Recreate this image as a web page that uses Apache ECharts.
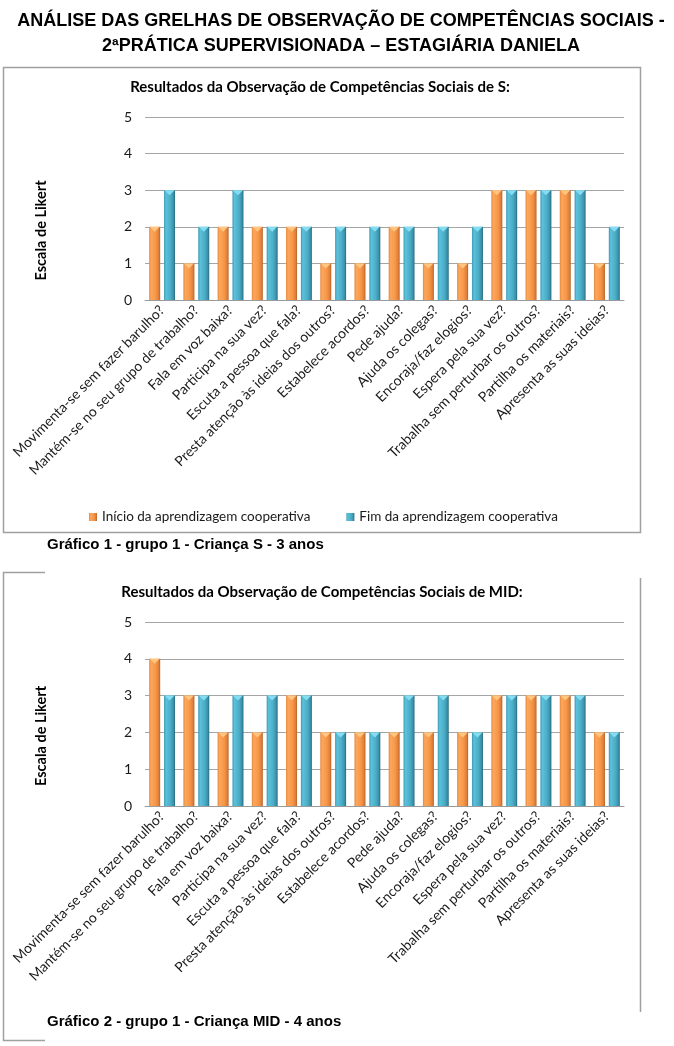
<!DOCTYPE html>
<html>
<head>
<meta charset="utf-8">
<script src="https://cdn.jsdelivr.net/npm/echarts@6/dist/echarts.min.js"></script>
<style>
html,body{margin:0;padding:0;background:#fff;}
#c{width:674px;height:1046px;}
</style>
</head>
<body>
<div id="c"></div>
<script>
const categories = [
  "Movimenta-se sem fazer barulho?",
  "Mantém-se no seu grupo de trabalho?",
  "Fala em voz baixa?",
  "Participa na sua vez?",
  "Escuta a pessoa que fala?",
  "Presta atenção às ideias dos outros?",
  "Estabelece acordos?",
  "Pede ajuda?",
  "Ajuda os colegas?",
  "Encoraja/faz elogios?",
  "Espera pela sua vez?",
  "Trabalha sem perturbar os outros?",
  "Partilha os materiais?",
  "Apresenta as suas ideias?"
];
const seriesNames = ["Início da aprendizagem cooperativa", "Fim da aprendizagem cooperativa"];
const S_inicio = [2, 1, 2, 2, 2, 1, 1, 2, 1, 1, 3, 3, 3, 1];
const S_fim    = [3, 2, 3, 2, 2, 2, 2, 2, 2, 2, 3, 3, 3, 2];
const MID_inicio = [4, 3, 2, 2, 3, 2, 2, 2, 2, 2, 3, 3, 3, 2];
const MID_fim    = [3, 3, 3, 3, 3, 2, 2, 3, 3, 2, 3, 3, 3, 2];
const yTicks = [0, 1, 2, 3, 4, 5];

const pageTitle = "ANÁLISE DAS GRELHAS DE OBSERVAÇÃO DE COMPETÊNCIAS SOCIAIS -\n2ªPRÁTICA SUPERVISIONADA – ESTAGIÁRIA DANIELA";
const chartTitle1 = "Resultados da Observação de Competências Sociais de S:";
const chartTitle2 = "Resultados da Observação de Competências Sociais de MID:";
const caption1 = "Gráfico 1 - grupo 1 - Criança S - 3 anos";
const caption2 = "Gráfico 2 - grupo 1 - Criança MID - 4 anos";
const yName = "Escala de Likert";

const FONT = "Lato, 'Open Sans', sans-serif";
const orangeGrad = new echarts.graphic.LinearGradient(0, 0, 1, 0, [
  {offset: 0, color: '#E5873A'},
  {offset: 0.18, color: '#FBA75E'},
  {offset: 0.6, color: '#F79646'},
  {offset: 0.85, color: '#E0803A'},
  {offset: 1, color: '#B5632A'}
]);
const blueGrad = new echarts.graphic.LinearGradient(0, 0, 1, 0, [
  {offset: 0, color: '#3C98B1'},
  {offset: 0.18, color: '#5CC1DB'},
  {offset: 0.6, color: '#4BACC6'},
  {offset: 0.85, color: '#3A92AB'},
  {offset: 1, color: '#28697B'}
]);

function xAxisCfg(gi) {
  return {
    type: 'category', gridIndex: gi, data: categories,
    axisTick: {show: false},
    axisLine: {lineStyle: {color: '#9A9A9A', width: 1}},
    axisLabel: {rotate: 45, interval: 0, margin: 8, color: '#1a1a1a',
      fontFamily: FONT, fontSize: 14}
  };
}
function yAxisCfg(gi) {
  return {
    type: 'value', gridIndex: gi, min: yTicks[0], max: yTicks[yTicks.length - 1], interval: 1,
    name: yName, nameLocation: 'middle', nameRotate: 90, nameGap: 96,
    nameTextStyle: {fontFamily: FONT, fontWeight: 'bold', fontSize: 14.5, color: '#000', padding: [0, 44, 0, 0]},
    axisLine: {show: false}, axisTick: {show: false},
    axisLabel: {margin: 13, color: '#1a1a1a', fontFamily: FONT, fontSize: 14},
    splitLine: {lineStyle: {color: '#A5A5A5', width: 1}}
  };
}
function barSeries(name, data, gi, grad) {
  return {
    name: name, type: 'bar', xAxisIndex: gi, yAxisIndex: gi, data: data,
    barWidth: 11, barGap: '35%', itemStyle: {color: grad}, z: 2
  };
}
function capSeries(data, gi, col) {
  return {
    type: 'pictorialBar', xAxisIndex: gi, yAxisIndex: gi, data: data,
    barWidth: 11, barGap: '35%', symbol: 'path://M0,0 L10,0 L5,5 Z',
    symbolSize: [10, 5], symbolPosition: 'end', itemStyle: {color: col}, z: 3,
    silent: true, legendHoverLink: false
  };
}

const chart = echarts.init(document.getElementById('c'), null, {renderer: 'canvas'});
const option = {
  animation: false,
  backgroundColor: '#fff',
  grid: [
    {left: 145, right: 50, top: 117, height: 183, containLabel: false},
    {left: 145, right: 50, top: 622, height: 184, containLabel: false}
  ],
  xAxis: [xAxisCfg(0), xAxisCfg(1)],
  yAxis: [yAxisCfg(0), yAxisCfg(1)],
  legend: {
    data: seriesNames, left: 84, top: 505, itemWidth: 8, itemHeight: 8, itemGap: 36,
    icon: 'rect',
    textStyle: {fontFamily: FONT, fontSize: 13.5, color: '#1a1a1a'}
  },
  graphic: [
    {type: 'text', style: {text: pageTitle, x: 341, y: 9, font: "bold 18px 'Liberation Sans', Arial, sans-serif", fill: '#000', textAlign: 'center', lineHeight: 25}},
    // chart 1 frame
    {type: 'rect', shape: {x: 3.5, y: 67.5, width: 637, height: 465}, style: {fill: 'none', stroke: '#A0A0A0', lineWidth: 1.5}, z: -1},
    {type: 'text', style: {text: chartTitle1, x: 320, y: 87, textAlign: 'center', textVerticalAlign: 'middle', font: "bold 15px Lato, sans-serif", fill: '#000'}},
    {type: 'text', style: {text: caption1, x: 47, y: 545, textVerticalAlign: 'middle', font: "bold 15px 'Liberation Sans', Arial, sans-serif", fill: '#000'}},
    // chart 2 frame pieces
    {type: 'polyline', shape: {points: [[45, 572.5], [3.5, 572.5], [3.5, 1040.5], [45, 1040.5]]}, style: {fill: 'none', stroke: '#A0A0A0', lineWidth: 1.5}, z: -1},
    {type: 'line', shape: {x1: 640.5, y1: 578, x2: 640.5, y2: 1012}, style: {stroke: '#A0A0A0', lineWidth: 1.5}, z: -1},
    {type: 'text', style: {text: chartTitle2, x: 322, y: 592, textAlign: 'center', textVerticalAlign: 'middle', font: "bold 15px Lato, sans-serif", fill: '#000'}},
    {type: 'text', style: {text: caption2, x: 47, y: 1022, textVerticalAlign: 'middle', font: "bold 15px 'Liberation Sans', Arial, sans-serif", fill: '#000'}}
  ],
  series: [
    barSeries(seriesNames[0], S_inicio, 0, orangeGrad),
    barSeries(seriesNames[1], S_fim, 0, blueGrad),
    capSeries(S_inicio, 0, '#FFC681'),
    capSeries(S_fim, 0, '#86DDF2'),
    barSeries(seriesNames[0], MID_inicio, 1, orangeGrad),
    barSeries(seriesNames[1], MID_fim, 1, blueGrad),
    capSeries(MID_inicio, 1, '#FFC681'),
    capSeries(MID_fim, 1, '#86DDF2')
  ]
};
chart.setOption(option);
</script>
</body>
</html>
